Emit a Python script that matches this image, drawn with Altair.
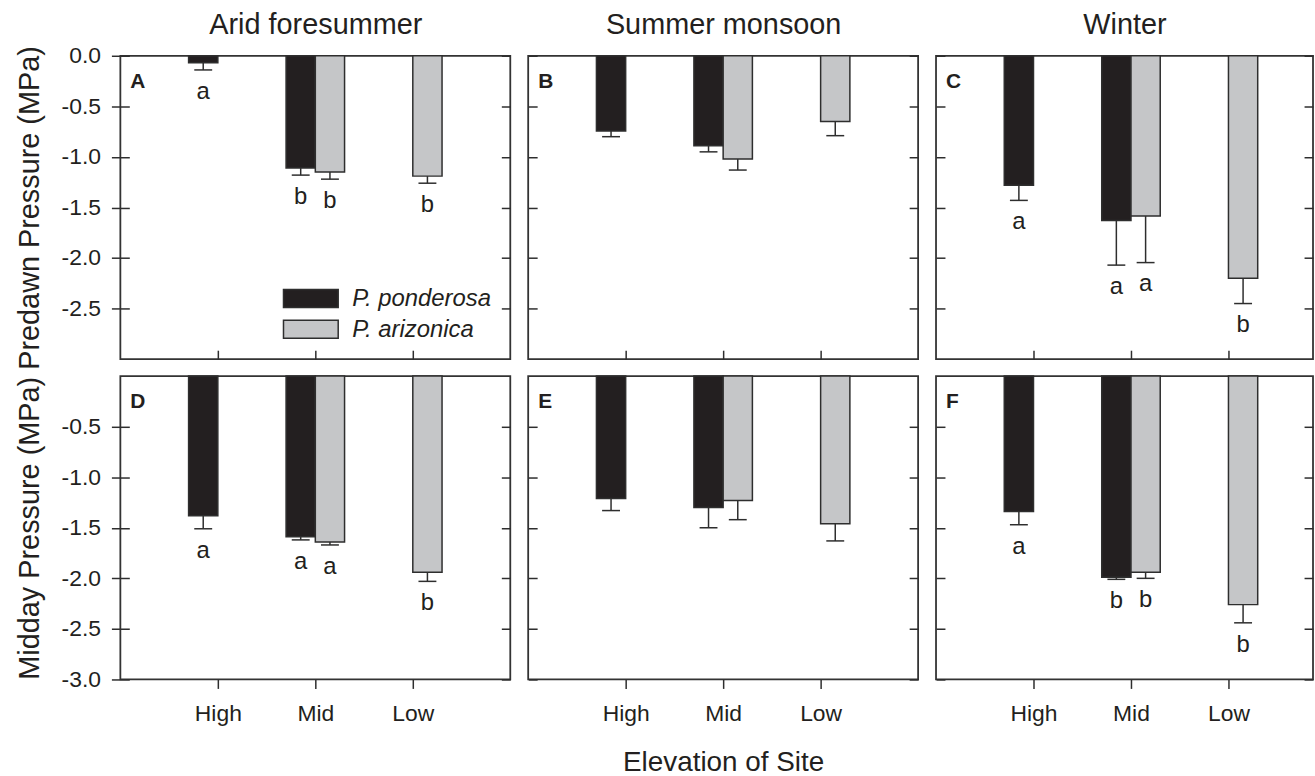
import altair as alt
import pandas as pd

# ---------------- data ----------------
seasons = ["Arid foresummer", "Summer monsoon", "Winter"]
sites = ["High", "Mid", "Low"]
species = ["P. ponderosa", "P. arizonica"]
row_titles = ["Predawn Pressure (MPa)", "Midday Pressure (MPa)"]
panel_labels = [["A", "B", "C"], ["D", "E", "F"]]
x_title = "Elevation of Site"

# per season (Arid foresummer, Summer monsoon, Winter), values at High, Mid, Low; None = no data
predawn_ponderosa = [[-0.07, -1.11, None], [-0.745, -0.89, None], [-1.28, -1.63, None]]
predawn_ponderosa_se = [[0.07, 0.07, None], [0.055, 0.06, None], [0.15, 0.44, None]]
predawn_arizonica = [[None, -1.15, -1.19], [None, -1.02, -0.65], [None, -1.585, -2.20]]
predawn_arizonica_se = [[None, 0.07, 0.07], [None, 0.11, 0.14], [None, 0.46, 0.25]]
predawn_ponderosa_letters = [["a", "b", ""], ["", "", ""], ["a", "a", ""]]
predawn_arizonica_letters = [["", "b", "b"], ["", "", ""], ["", "a", "b"]]

midday_ponderosa = [[-1.38, -1.59, None], [-1.21, -1.30, None], [-1.34, -1.99, None]]
midday_ponderosa_se = [[0.13, 0.03, None], [0.12, 0.20, None], [0.13, 0.02, None]]
midday_arizonica = [[None, -1.64, -1.94], [None, -1.23, -1.46], [None, -1.94, -2.26]]
midday_arizonica_se = [[None, 0.03, 0.09], [None, 0.19, 0.17], [None, 0.06, 0.18]]
midday_ponderosa_letters = [["a", "a", ""], ["", "", ""], ["a", "b", ""]]
midday_arizonica_letters = [["", "a", "b"], ["", "", ""], ["", "b", "b"]]

y_ticks = [[0.0, -0.5, -1.0, -1.5, -2.0, -2.5], [-0.5, -1.0, -1.5, -2.0, -2.5, -3.0]]
y_domain = [-3.0, 0.0]

# ---------------- long table ----------------
series = [
    (0, species[0], predawn_ponderosa, predawn_ponderosa_se, predawn_ponderosa_letters),
    (0, species[1], predawn_arizonica, predawn_arizonica_se, predawn_arizonica_letters),
    (1, species[0], midday_ponderosa, midday_ponderosa_se, midday_ponderosa_letters),
    (1, species[1], midday_arizonica, midday_arizonica_se, midday_arizonica_letters),
]
records = []
for r, sp, means, ses, lets in series:
    for c in range(len(seasons)):
        for s in range(len(sites)):
            if means[c][s] is None:
                continue
            records.append(dict(row=r, col=c, site=s + 1, species=sp,
                                mean=means[c][s], se=ses[c][s], letter=lets[c][s]))
df = pd.DataFrame(records)

# ---------------- style ----------------
FONT = "Liberation Sans"
INK = "#231f20"
LINE = "#2e2e2e"
W = 392
W_LAST = 379
H = 305
BAR_W = 0.3
TICK = 9
site_expr = "[" + ",".join("'%s'" % s for s in sites) + "][datum.value - 1]"
minus_expr = "(datum.value < 0 ? '-' : '') + format(abs(datum.value), '.1f')"


def panel(r, c):
    d = df[(df.row == r) & (df.col == c)]
    width = W_LAST if c == 2 else W
    xs = alt.Scale(domain=[0, 4 * width / W], nice=False, zero=False)
    ys = alt.Scale(domain=y_domain, nice=False, zero=False)

    if r == 1:
        x_axis = alt.Axis(orient="bottom", values=[1, 2, 3], labelExpr=site_expr,
                          tickSize=TICK, labelPadding=14,
                          title=x_title if c == 1 else None, titlePadding=24)
    else:
        x_axis = alt.Axis(orient="bottom", values=[1, 2, 3], labels=False,
                          tickSize=TICK, offset=-TICK, title=None)
    if r == 0:
        top_axis = alt.Axis(orient="top", ticks=False, labels=False, domain=False,
                            title=seasons[c], titleFontSize=29, titlePadding=16)
    else:
        top_axis = None
    if c == 0:
        y_left = alt.Axis(orient="left", values=y_ticks[r], labelExpr=minus_expr,
                          tickSize=2 * TICK, offset=-TICK, labelPadding=11,
                          title=row_titles[r], titlePadding=17, titleFontSize=29)
    else:
        y_left = alt.Axis(orient="left", values=y_ticks[r], labels=False,
                          tickSize=TICK, offset=-TICK, title=None)
    y_right = alt.Axis(orient="right", values=y_ticks[r], labels=False,
                       tickSize=TICK, offset=-TICK, title=None)

    base = (alt.Chart(d)
            .transform_calculate(x0="datum.site + (datum.species === '%s' ? %f : 0)" % (species[0], -BAR_W))
            .transform_calculate(x1="datum.x0 + %f" % BAR_W)
            .transform_calculate(xc="datum.x0 + %f" % (BAR_W / 2))
            .transform_calculate(zero="0")
            .transform_calculate(lo="datum.mean - datum.se"))

    color = alt.Scale(domain=species, range=["#231f20", "#c5c6c8"])
    bars = base.mark_rect(stroke=LINE, strokeWidth=1.5).encode(
        x=alt.X("x0:Q", scale=xs, axis=x_axis),
        x2="x1:Q",
        y=alt.Y("mean:Q", scale=ys, axis=y_left),
        y2="zero:Q",
        fill=alt.Fill("species:N", scale=color, legend=None),
    )
    err = base.mark_rule(color=LINE, strokeWidth=1.5).encode(
        x=alt.X("xc:Q", scale=xs, axis=None),
        y=alt.Y("mean:Q", scale=ys, axis=y_right),
        y2="lo:Q",
    )
    caps = base.mark_tick(orient="horizontal", size=18, thickness=1.5, color=LINE, opacity=1).encode(
        x=alt.X("xc:Q", scale=xs, axis=top_axis),
        y=alt.Y("lo:Q", scale=ys, axis=None),
    )
    letters = base.transform_filter("datum.letter != ''").mark_text(
        baseline="top", dy=10, font=FONT, fontSize=24, color=INK
    ).encode(
        x=alt.X("xc:Q", scale=xs, axis=None),
        y=alt.Y("lo:Q", scale=ys, axis=None),
        text="letter:N",
    )
    plab = alt.Chart(pd.DataFrame({"t": [panel_labels[r][c]]})).mark_text(
        align="left", baseline="alphabetic", font=FONT, fontSize=21, fontWeight="bold", color=INK
    ).encode(x=alt.value(10), y=alt.value(32), text="t:N")

    layers = [bars, err, caps, letters, plab]

    if r == 0 and c == 0:
        for i, sp in enumerate(species):
            ld = pd.DataFrame({"species": [sp]})
            y0 = 235 + 31 * i
            sw = alt.Chart(ld).mark_rect(stroke=LINE, strokeWidth=1.5).encode(
                x=alt.value(164), x2=alt.value(219), y=alt.value(y0), y2=alt.value(y0 + 18),
                fill=alt.Fill("species:N", scale=color, legend=None),
            )
            tx = alt.Chart(ld).mark_text(
                align="left", baseline="alphabetic", font=FONT, fontSize=24, fontStyle="italic", color=INK
            ).encode(x=alt.value(233), y=alt.value(y0 + 17), text="species:N")
            layers += [sw, tx]

    ch = alt.layer(*layers).resolve_axis(x="independent", y="independent")
    return ch.properties(width=width, height=H)


top = alt.hconcat(*[panel(0, c) for c in range(3)], spacing=14)
bottom = alt.hconcat(*[panel(1, c) for c in range(3)], spacing=14)

chart = (
    alt.vconcat(top, bottom, spacing=3)
    .properties(padding={"left": 14, "top": 8, "right": 0, "bottom": 0}, background="white")
    .configure_view(stroke="#333333", strokeWidth=1.8)
    .configure_axis(
        labelFont=FONT, labelFontSize=23, labelColor=INK,
        tickColor=LINE, tickWidth=1.5, domain=False, grid=False,
        titleFont=FONT, titleFontSize=28, titleFontWeight="normal", titleColor=INK,
    )
)

chart.save("out.html", embed_options={"renderer": "svg", "actions": False})
